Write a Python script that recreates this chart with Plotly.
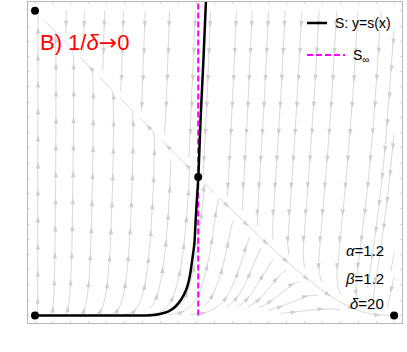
import math
import numpy as np
import plotly.graph_objects as go

# model parameters (shown on the chart)
ALPHA = 1.2
BETA = 1.2
DELTA = 20

# fixed points
fixed_x = [0.0, 0.0, 1.0, 0.4545]
fixed_y = [0.0, 1.0, 0.0, 0.4545]

# separatrix S: y = s(x)
s_x = [0.0, 0.2, 0.31, 0.345, 0.372, 0.392, 0.407, 0.421, 0.431, 0.438,
       0.444, 0.448, 0.452, 0.455, 0.461, 0.469, 0.476]
s_y = [0.0, 0.0, 0.0, 0.004, 0.013, 0.030, 0.052, 0.084, 0.128, 0.183,
       0.238, 0.325, 0.402, 0.456, 0.642, 0.839, 1.03]

# limit curve S_inf
s_inf_x = [0.4545, 0.4545]
s_inf_y = [0.0, 1.03]

X_RANGE = [-0.0195, 1.022]
Y_RANGE = [-0.025, 1.029]

W, H = 407, 352
ML, MR, MT, MB = 28, 5, 2, 29
SX = (W - ML - MR) / (X_RANGE[1] - X_RANGE[0])   # px per unit
SY = (H - MT - MB) / (Y_RANGE[1] - Y_RANGE[0])

GREY = "#d9d9d9"


def field(x, y):
    return x * (1 - x - ALPHA * y), DELTA * y * (1 - y - BETA * x)


def direction(u, v):
    fx, fy = field(u / SX, v / SY)
    du, dv = fx * SX, fy * SY
    n = math.hypot(du, dv)
    if n < 1e-6:
        return None
    return du / n, dv / n


D_SEP = 14.0
D_TEST = 6.5
STEP = 0.5
CELL = D_SEP
grid = {}
fixed_px = [(fx * SX, fy * SY) for fx, fy in zip(fixed_x, fixed_y)]


def near(u, v, d):
    ci, cj = int(u // CELL), int(v // CELL)
    d2 = d * d
    for i in range(ci - 1, ci + 2):
        for j in range(cj - 1, cj + 2):
            for (a, b) in grid.get((i, j), ()):
                if (a - u) ** 2 + (b - v) ** 2 < d2:
                    return True
    return False


def inside(u, v):
    return -0.01 <= u <= SX + 0.01 and -0.01 <= v <= SY + 0.01


def trace_dir(u, v, sign):
    pts = []
    prev = None
    for _ in range(6000):
        k1 = direction(u, v)
        if k1 is None:
            break
        k2 = direction(u + sign * STEP / 2 * k1[0], v + sign * STEP / 2 * k1[1])
        if k2 is None:
            break
        k3 = direction(u + sign * STEP / 2 * k2[0], v + sign * STEP / 2 * k2[1])
        if k3 is None:
            break
        k4 = direction(u + sign * STEP * k3[0], v + sign * STEP * k3[1])
        if k4 is None:
            break
        du = (k1[0] + 2 * k2[0] + 2 * k3[0] + k4[0]) / 6
        dv = (k1[1] + 2 * k2[1] + 2 * k3[1] + k4[1]) / 6
        if prev is not None and du * prev[0] + dv * prev[1] < 0.2:
            break
        prev = (du, dv)
        nu, nv = u + sign * STEP * du, v + sign * STEP * dv
        if not inside(nu, nv) or near(nu, nv, D_TEST):
            break
        if any((nu - a) ** 2 + (nv - b) ** 2 < 9 for a, b in fixed_px):
            break
        u, v = nu, nv
        pts.append((u, v))
    return pts


def streamline(u, v):
    back = trace_dir(u, v, -1)
    fwd = trace_dir(u, v, 1)
    return back[::-1] + [(u, v)] + fwd


def add(line):
    for (a, b) in line[::2]:
        grid.setdefault((int(a // CELL), int(b // CELL)), []).append((a, b))


lines = []


def grow(seed):
    queue = [seed]
    while queue:
        u, v = queue.pop(0)
        if not inside(u, v) or near(u, v, D_SEP * 0.95):
            continue
        line = streamline(u, v)
        if len(line) * STEP < 12:
            continue
        add(line)
        lines.append(line)
        for k in range(0, len(line) - 1, 6):
            a, b = line[k]
            c, d = line[k + 1]
            n = math.hypot(c - a, d - b) or 1
            px, py = -(d - b) / n, (c - a) / n
            queue.append((a + px * D_SEP, b + py * D_SEP))
            queue.append((a - px * D_SEP, b - py * D_SEP))


for j in range(int(SY // D_SEP), -1, -1):
    for i in range(int(SX // D_SEP) + 1):
        grow((i * D_SEP + 3, j * D_SEP + 3))

# assemble line trace and arrowheads
lx, ly, ax, ay, ang = [], [], [], [], []
ARROW_GAP = 27.0
for line in lines:
    arr = np.array(line)
    lx.extend((arr[::2, 0] / SX).tolist() + [None])
    ly.extend((arr[::2, 1] / SY).tolist() + [None])
    seg = np.hypot(np.diff(arr[:, 0]), np.diff(arr[:, 1]))
    s = np.concatenate([[0], np.cumsum(seg)])
    target = ARROW_GAP * 0.6
    while target < s[-1] - 3:
        k = int(np.searchsorted(s, target))
        k = min(max(k, 1), len(arr) - 1)
        du, dv = arr[k] - arr[k - 1]
        ax.append(arr[k, 0] / SX)
        ay.append(arr[k, 1] / SY)
        ang.append(math.degrees(math.atan2(du, dv)))
        target += ARROW_GAP

fig = go.Figure()
fig.add_trace(go.Scatter(x=lx, y=ly, mode="lines",
                         line=dict(color=GREY, width=1), hoverinfo="skip"))
fig.add_trace(go.Scatter(x=ax, y=ay, mode="markers", hoverinfo="skip",
                         marker=dict(symbol="arrow", size=7, color="#d0d0d0",
                                     angle=ang, line=dict(width=0))))
fig.add_trace(go.Scatter(x=s_inf_x, y=s_inf_y, mode="lines",
                         line=dict(color="#ff00ff", width=2, dash="6px,3px")))
fig.add_trace(go.Scatter(x=s_x, y=s_y, mode="lines",
                         line=dict(color="black", width=2.5, shape="spline", smoothing=0.6)))
fig.add_trace(go.Scatter(x=fixed_x, y=fixed_y, mode="markers",
                         marker=dict(color="black", size=8)))

FONT = "Liberation Sans, Arial, sans-serif"


def px2paper(px, py):
    return (px - ML) / (W - ML - MR), (H - MB - py) / (H - MT - MB)


ann = []
tx, ty = px2paper(38, 42)
ann.append(dict(x=tx, y=ty,
                text="B) 1/<i>δ</i><span style='font-family:DejaVu Sans'>→</span>0",
                font=dict(color="red", size=22, family=FONT),
                xanchor="left", yanchor="middle"))
tx, ty = px2paper(333, 23)
ann.append(dict(x=tx, y=ty, text="S: y=s(x)", font=dict(color="black", size=14, family=FONT),
                xanchor="left", yanchor="middle"))
tx, ty = px2paper(351, 56)
ann.append(dict(x=tx, y=ty, text="S<sub>∞</sub>", font=dict(color="black", size=14, family=FONT),
                xanchor="left", yanchor="middle"))
params = [("α", ALPHA, 250), ("β", BETA, 278), ("δ", DELTA, 303)]
for name, val, py in params:
    tx, ty = px2paper(386, py)
    ann.append(dict(x=tx, y=ty, text=f"<i>{name}</i>={val}",
                    font=dict(color="black", size=15, family=FONT),
                    xanchor="right", yanchor="middle"))
for a in ann:
    a.update(xref="paper", yref="paper", showarrow=False)

shapes = []
x0, y0 = px2paper(307, 23)
x1, _ = px2paper(327, 23)
shapes.append(dict(type="line", xref="paper", yref="paper", x0=x0, x1=x1, y0=y0, y1=y0,
                   line=dict(color="black", width=2.5)))
x0, y0 = px2paper(307, 55)
x1, _ = px2paper(345, 55)
shapes.append(dict(type="line", xref="paper", yref="paper", x0=x0, x1=x1, y0=y0, y1=y0,
                   line=dict(color="#ff00ff", width=2, dash="6px,3px")))

axis = dict(showgrid=False, zeroline=False, showticklabels=False, showline=True,
            linecolor="#b8b8b8", linewidth=1, mirror="allticks", ticks="inside",
            ticklen=2, tickcolor="#d8d8d8", dtick=0.05)
fig.update_layout(
    width=W, height=H, margin=dict(l=ML, r=MR, t=MT, b=MB),
    plot_bgcolor="white", paper_bgcolor="white", showlegend=False,
    xaxis=dict(range=X_RANGE, tick0=0, **axis),
    yaxis=dict(range=Y_RANGE, tick0=0, **axis),
    annotations=ann, shapes=shapes,
)
fig.write_html("out.html", config={"displayModeBar": False},
               post_script="document.body.style.margin='0';")
